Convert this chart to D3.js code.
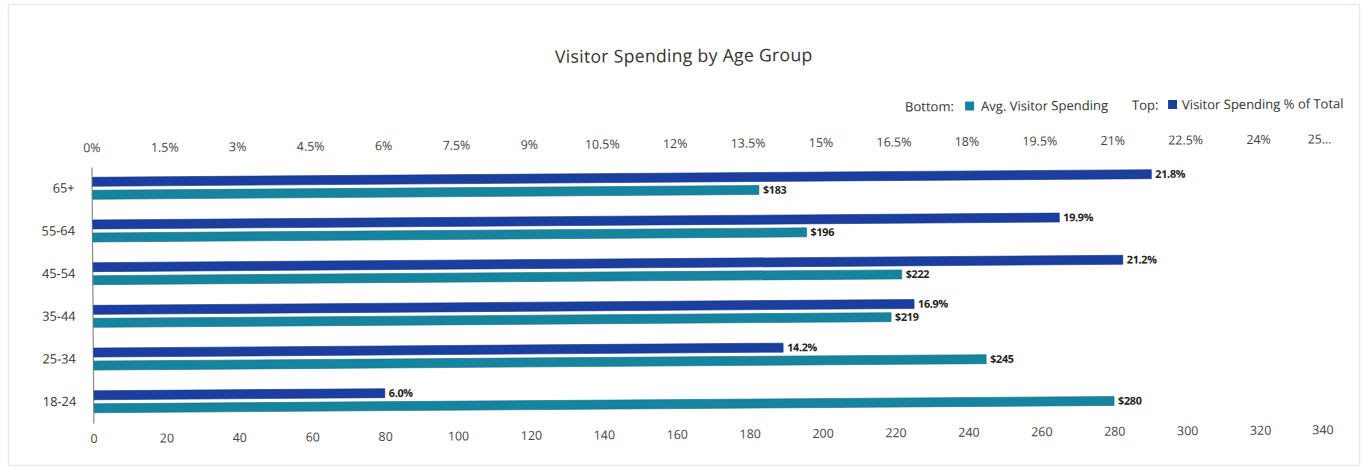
<!DOCTYPE html>
<html>
<head>
<meta charset="utf-8">
<script src="https://cdn.jsdelivr.net/npm/d3@7"></script>
<style>
  html, body { margin: 0; padding: 0; background: #ffffff; }
  svg { display: block; }
  text { font-family: "Open Sans", "Noto Sans", sans-serif; }
</style>
</head>
<body>
<svg id="chart" width="1364" height="471"></svg>
<script>
// Age groups, top to bottom
const ageGroups = ["65+", "55-64", "45-54", "35-44", "25-34", "18-24"];
// Top bar: share of total visitor spending (%)
const spendingShare = [21.8, 19.9, 21.2, 16.9, 14.2, 6.0];
// Bottom bar: average spending per visitor ($)
const avgSpending = [183, 196, 222, 219, 245, 280];

// Axis ticks
const spendTicks = [0, 20, 40, 60, 80, 100, 120, 140, 160, 180, 200, 220, 240, 260, 280, 300, 320, 340];
const shareTicks = [0, 1.5, 3, 4.5, 6, 7.5, 9, 10.5, 12, 13.5, 15, 16.5, 18, 19.5, 21, 22.5, 24, 25.5];
const shareTickLabels = ["0%", "1.5%", "3%", "4.5%", "6%", "7.5%", "9%", "10.5%", "12%", "13.5%",
                         "15%", "16.5%", "18%", "19.5%", "21%", "22.5%", "24%", "25…"];

const seriesKeys = ["share", "avg"];
const colors = { share: "#1a3f9f", avg: "#16849f" };
const strokeColors = { share: "#122f80", avg: "#0f6c85" };

const svg = d3.select("#chart");

// card outline
svg.append("rect")
  .attr("x", 8.5).attr("y", 4.5).attr("width", 1351).attr("height", 461)
  .attr("fill", "#ffffff").attr("stroke", "#e4edf0").attr("stroke-width", 1.5);

// whole chart is slightly tilted
const root = svg.append("g").attr("transform", "rotate(-0.41, 682, 235)");

const x0 = 92, x1 = 92 + 340 * 3.646;
const xSpend = d3.scaleLinear().domain([0, 340]).range([x0, x1]);
const xShare = d3.scaleLinear().domain([0, 25.5]).range([x0, x1]);

const y = d3.scaleBand().domain(ageGroups).range([162.7, 418.9]).paddingInner(0).paddingOuter(0);
const ySub = d3.scaleBand().domain(seriesKeys)
  .range([y.bandwidth() / 2 - 11, y.bandwidth() / 2 + 11]).paddingInner(0.3077).paddingOuter(0);

// title
root.append("text")
  .attr("x", 685).attr("y", 62)
  .attr("text-anchor", "middle")
  .attr("font-size", 17.6).attr("letter-spacing", 0.3).attr("fill", "#333")
  .text("Visitor Spending by Age Group");

// legend
const legend = root.append("g").attr("font-size", 13).attr("fill", "#333");
const legY = 113;
legend.append("text").attr("x", 906).attr("y", legY).text("Bottom:");
legend.append("rect").attr("x", 966).attr("y", legY - 9.5).attr("width", 9).attr("height", 9).attr("fill", colors.avg);
legend.append("text").attr("x", 982).attr("y", legY).text("Avg. Visitor Spending");
legend.append("text").attr("x", 1133).attr("y", legY).text("Top:");
legend.append("rect").attr("x", 1169).attr("y", legY - 9.5).attr("width", 9).attr("height", 9).attr("fill", colors.share);
legend.append("text").attr("x", 1183).attr("y", legY).text("Visitor Spending % of Total");

// top axis: share of total
const topAxis = root.append("g")
  .attr("transform", "translate(0,152)")
  .call(d3.axisTop(xShare).tickValues(shareTicks).tickSize(0).tickPadding(4)
    .tickFormat((d, i) => shareTickLabels[i]));
topAxis.select(".domain").remove();
topAxis.selectAll("text").attr("font-size", 12.4).attr("fill", "#444")
  .attr("font-family", "'Open Sans', sans-serif")
  .attr("text-anchor", (d, i) => i === shareTicks.length - 1 ? "end" : "middle");

// bottom axis: average spending
const bottomAxis = root.append("g")
  .attr("transform", "translate(0,427)")
  .call(d3.axisBottom(xSpend).tickValues(spendTicks).tickSize(0).tickPadding(3));
bottomAxis.select(".domain").remove();
bottomAxis.selectAll("text").attr("font-size", 12.4).attr("fill", "#444")
  .attr("font-family", "'Open Sans', sans-serif")
  .attr("text-anchor", (d, i) => i === spendTicks.length - 1 ? "end" : "middle");

// left category axis
const leftAxis = root.append("g")
  .attr("transform", `translate(${x0},0)`)
  .call(d3.axisLeft(y).tickSize(0).tickPadding(17));
leftAxis.select(".domain").attr("stroke", "#8a8a8a").attr("stroke-width", 1.2);
leftAxis.selectAll("text").attr("font-size", 12.8).attr("fill", "#333")
  .attr("font-family", "'Open Sans', sans-serif");

// bars
const rows = ageGroups.map((g, i) => ({ group: g, share: spendingShare[i], avg: avgSpending[i] }));
const groups = root.append("g").selectAll("g").data(rows).join("g")
  .attr("transform", d => `translate(0,${y(d.group)})`);

const xFor = k => (k === "share" ? xShare : xSpend);
const fmt = { share: v => d3.format(".1f")(v) + "%", avg: v => "$" + v };

groups.selectAll("rect").data(d => seriesKeys.map(k => ({ key: k, value: d[k] }))).join("rect")
  .attr("x", x0 + 1)
  .attr("y", d => ySub(d.key))
  .attr("width", d => xFor(d.key)(d.value) - x0 - 1)
  .attr("height", ySub.bandwidth())
  .attr("fill", d => colors[d.key])
  .attr("stroke", d => strokeColors[d.key]).attr("stroke-width", 0.6);

groups.selectAll("text.val").data(d => seriesKeys.map(k => ({ key: k, value: d[k] }))).join("text")
  .attr("class", "val")
  .attr("x", d => xFor(d.key)(d.value) + 4)
  .attr("y", d => ySub(d.key) + ySub.bandwidth() / 2 + 3.8)
  .attr("font-size", 10.8).attr("font-weight", 700).attr("fill", "#222")
  .attr("letter-spacing", -0.3)
  .text(d => fmt[d.key](d.value));
</script>
</body>
</html>
